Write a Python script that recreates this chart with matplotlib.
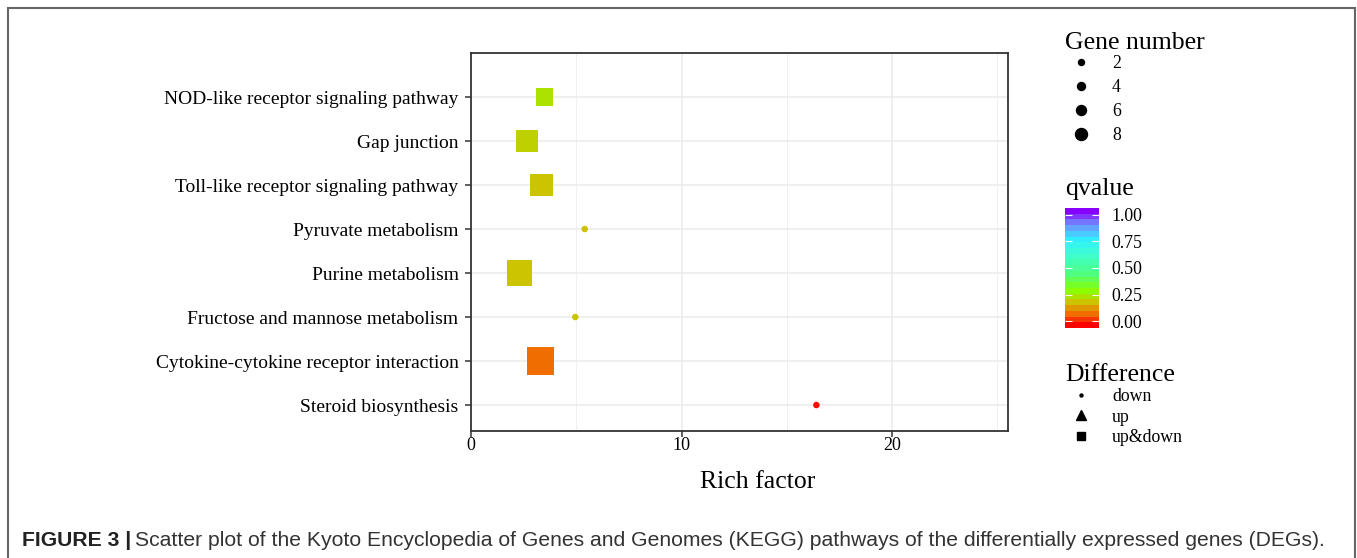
import numpy as np
import matplotlib
matplotlib.use("Agg")
import matplotlib.pyplot as plt
from matplotlib.colors import LinearSegmentedColormap, ListedColormap, Normalize
from matplotlib.lines import Line2D
from matplotlib.patches import Rectangle
from matplotlib.cm import ScalarMappable

# KEGG enrichment values, bottom row first
pathways = ["Steroid biosynthesis",
            "Cytokine-cytokine receptor interaction",
            "Fructose and mannose metabolism",
            "Purine metabolism",
            "Pyruvate metabolism",
            "Toll-like receptor signaling pathway",
            "Gap junction",
            "NOD-like receptor signaling pathway"]
rich_factor = [16.4, 3.3, 4.95, 2.3, 5.4, 3.35, 2.65, 3.5]
gene_number = [2, 8, 2, 7, 2, 6, 6, 4]
qvalue = [0.01, 0.1, 0.2, 0.2, 0.2, 0.2, 0.22, 0.25]
difference = ["down", "up&down", "down", "up&down", "down", "up&down", "up&down", "up&down"]

legend_genes = [2, 4, 6, 8]
diff_levels = ["down", "up", "up&down"]
q_ticks = [0.0, 0.25, 0.5, 0.75, 1.0]
x_ticks = [0, 10, 20]

W, H = 1357, 558
DPI = 100
PX = 72.0 / DPI

serif = ["Liberation Serif", "DejaVu Serif"]
plt.rcParams["font.family"] = serif

cmap = LinearSegmentedColormap.from_list("q", [
    (0.0, "#ff0000"), (0.1, "#f07000"), (0.2, "#ccc400"), (0.3, "#8cff00"),
    (0.45, "#50ff80"), (0.6, "#40ffc8"), (0.75, "#30f0ff"), (0.88, "#7090ff"),
    (1.0, "#8800ff")])
cmap_steps = ListedColormap(cmap(np.linspace(0.0, 1.0, 21)))
norm = Normalize(0, 1)

fig = plt.figure(figsize=(W / DPI, H / DPI), dpi=DPI)
ax = fig.add_axes([471 / W, 1 - 431 / H, 537 / W, 378 / H])

ypos = np.arange(1, len(pathways) + 1)
rf = np.array(rich_factor)
gn = np.array(gene_number)
qv = np.array(qvalue)
diff = np.array(difference)

markers = {"down": "o", "up": "^", "up&down": "s"}
for level in diff_levels:
    m = diff == level
    if not m.any():
        continue
    if level == "down":
        side = 3.25 * gn[m]
    else:
        side = 7 + 2.6 * gn[m]
    ax.scatter(rf[m], ypos[m], s=(side * PX) ** 2, c=qv[m], cmap=cmap, norm=norm,
               marker=markers[level], linewidths=0, zorder=3)

ax.set_xlim(0, 25.5)
ax.set_ylim(0.41, 9.0)
ax.set_yticks(ypos)
ax.set_yticklabels(pathways, fontsize=14)
ax.set_xticks(x_ticks)
ax.set_xticklabels([str(t) for t in x_ticks], fontsize=13)
ax.set_xticks([5, 15, 25], minor=True)
ax.tick_params(which="minor", length=0)
ax.tick_params(which="major", length=4, width=1.1, color="#333333")
ax.tick_params(axis="x", pad=0.5)
ax.tick_params(axis="y", pad=5)
ax.grid(True, which="major", color="#ebebeb", lw=1.1, zorder=0)
ax.grid(True, which="minor", axis="x", color="#f0f0f0", lw=0.7, zorder=0)
ax.set_axisbelow(True)
for sp in ax.spines.values():
    sp.set_color("#333333")
    sp.set_linewidth(1.3)
ax.set_xlabel("Rich factor", fontsize=18.5, x=0.534, labelpad=12)

title_kw = dict(fontsize=18.5, va="center", ha="left")

# Gene number legend
fig.text(1065 / W, 1 - 43 / H, "Gene number", **title_kw)
size_handles = [Line2D([], [], ls="none", marker="o", color="black",
                       markersize=(4 + g) * PX) for g in legend_genes]
fig.legend(size_handles, [str(g) for g in legend_genes],
           loc="upper left", bbox_to_anchor=(1064 / W, 1 - 55 / H),
           frameon=False, fontsize=12.8, borderpad=0, borderaxespad=0,
           handlelength=1.9, handletextpad=0.8, labelspacing=0.40)

# Difference legend
fig.text(1065 / W, 1 - 375 / H, "Difference", **title_kw)
diff_sizes = {"down": 3, "up": 10, "up&down": 8}
shape_handles = [Line2D([], [], ls="none", marker=markers[d], color="black",
                        markersize=diff_sizes[d] * PX) for d in diff_levels]
fig.legend(shape_handles, diff_levels,
           loc="upper left", bbox_to_anchor=(1064 / W, 1 - 388 / H),
           frameon=False, fontsize=12.8, borderpad=0, borderaxespad=0,
           handlelength=1.9, handletextpad=0.8, labelspacing=0.2)

# qvalue colour bar, the bar runs a little past 0 and 1
fig.text(1065 / W, 1 - 189 / H, "qvalue", **title_kw)
cax = fig.add_axes([1065 / W, 1 - 328 / H, 34 / W, 120 / H])
sm = ScalarMappable(norm=Normalize(-0.066, 1.066), cmap=cmap_steps)
cb = fig.colorbar(sm, cax=cax, ticks=q_ticks)
cb.outline.set_visible(False)
cb.ax.set_yticklabels(["%.2f" % t for t in q_ticks], fontsize=12.8)
cb.ax.tick_params(direction="in", length=5, width=0.8, color="white", left=True, right=True, pad=9)

# frame around the figure
fig.patches.append(Rectangle((8 / W, -0.1), 1347 / W, 1.1 - 8 / H,
                             transform=fig.transFigure, fill=False, ec="#666666", lw=1.5))

# caption
sans = ["Liberation Sans", "DejaVu Sans"]
cap_y = 1 - 541 / H
t1 = fig.text(22 / W, cap_y, "FIGURE 3 |", family=sans, fontsize=15.2, weight="bold",
              va="center", color="#222222")
fig.canvas.draw()
bb = t1.get_window_extent()
fig.text((bb.x1 + 4) / W, cap_y,
         "Scatter plot of the Kyoto Encyclopedia of Genes and Genomes (KEGG) pathways of the differentially expressed genes (DEGs).",
         family=sans, fontsize=15.2, va="center", color="#333333")

fig.savefig("out.png", dpi=DPI)
